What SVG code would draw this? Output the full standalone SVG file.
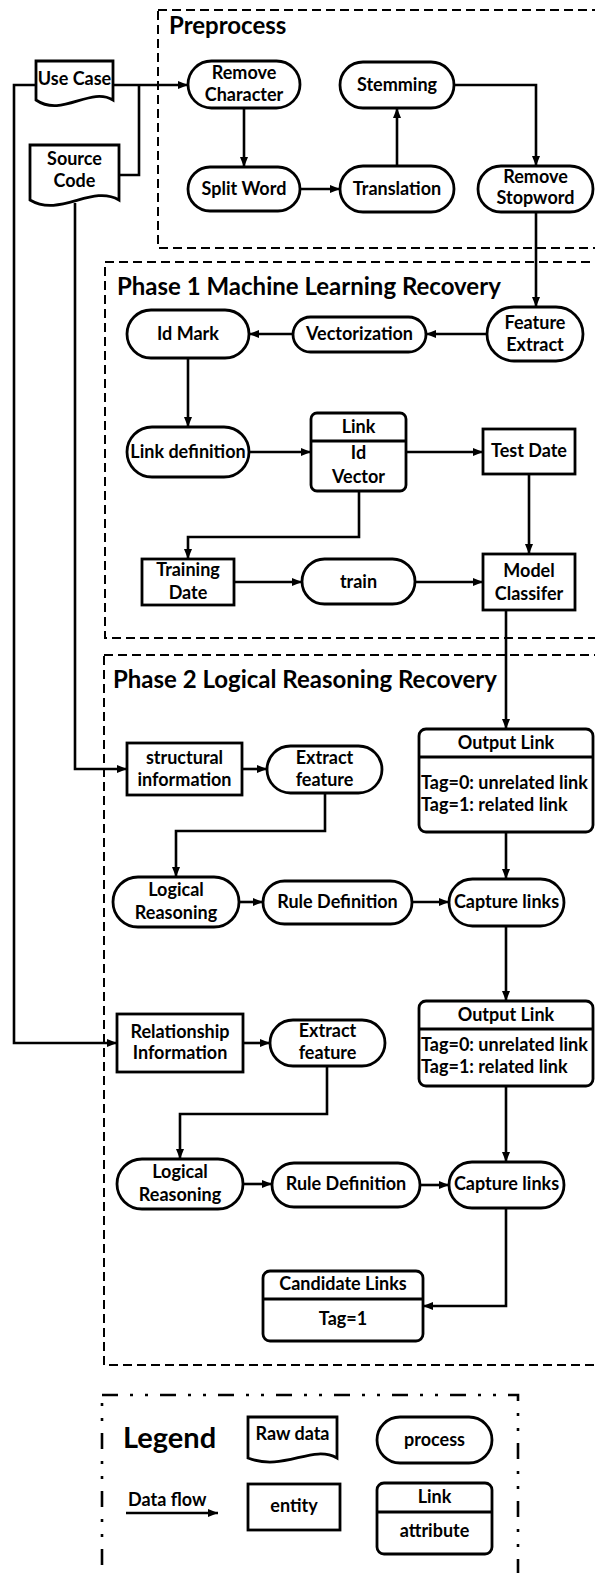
<svg xmlns="http://www.w3.org/2000/svg" width="595" height="1573" viewBox="0 0 595 1573">
<defs>
<style>
.n{fill:#fff;stroke:#000;stroke-width:2.8}
.t{font-family:Lato,"Liberation Sans",sans-serif;font-weight:bold;font-size:18px;fill:#000;text-anchor:middle}
.tl{font-family:Lato,"Liberation Sans",sans-serif;font-weight:bold;font-size:18px;fill:#000;text-anchor:start}
.h{font-family:Lato,"Liberation Sans",sans-serif;font-weight:bold;font-size:24px;fill:#000}
.grp{fill:none;stroke:#000;stroke-width:2;stroke-dasharray:9 5}
.c{fill:none;stroke:#000;stroke-width:2.6}
.ca{fill:none;stroke:#000;stroke-width:2.6;marker-end:url(#ah)}
</style>
<marker id="ah" viewBox="0 0 10 8" refX="10" refY="4" markerWidth="10" markerHeight="8" markerUnits="userSpaceOnUse" orient="auto">
<path d="M0,0 L10,4 L0,8 z" fill="#000"/>
</marker>
</defs>
<rect width="595" height="1573" fill="#fff"/>

<g id="groups">
<rect class="grp" x="158" y="10" width="460" height="238"/>
<text class="h" x="169" y="34">Preprocess</text>
<rect class="grp" x="105" y="262" width="520" height="376"/>
<text class="h" x="117" y="295">Phase 1 Machine Learning Recovery</text>
<rect class="grp" x="104" y="655" width="520" height="710"/>
<text class="h" x="113" y="688">Phase 2 Logical Reasoning Recovery</text>
</g>

<g id="connectors">
<path class="ca" d="M113,85 H188"/>
<path class="c" d="M119,175 H139 V85"/>
<path class="ca" d="M244,108 V167"/>
<path class="ca" d="M300,189 H340"/>
<path class="ca" d="M397,166 V108"/>
<path class="ca" d="M454,85 H536 V166"/>
<path class="ca" d="M536,212 V307"/>
<path class="ca" d="M487,334 H426"/>
<path class="ca" d="M293,334 H249"/>
<path class="ca" d="M188,358 V427"/>
<path class="ca" d="M249,452 H311"/>
<path class="ca" d="M406,452 H483"/>
<path class="ca" d="M529,474 V554"/>
<path class="ca" d="M359,491 V537 H188 V559"/>
<path class="ca" d="M234,582 H302"/>
<path class="ca" d="M415,582 H483"/>
<path class="ca" d="M506,610 V729"/>
<path class="ca" d="M75,203 V769 H127"/>
<path class="ca" d="M242,769 H267"/>
<path class="ca" d="M325,793 V831 H176 V877"/>
<path class="ca" d="M239,902 H263"/>
<path class="ca" d="M412,902 H449"/>
<path class="ca" d="M506,832 V879"/>
<path class="ca" d="M506,926 V1001"/>
<path class="ca" d="M36,85 H14 V1043 H117"/>
<path class="ca" d="M243,1043 H270"/>
<path class="ca" d="M327,1066 V1114 H180 V1159"/>
<path class="ca" d="M243,1184 H272"/>
<path class="ca" d="M420,1185 H449"/>
<path class="ca" d="M506,1086 V1162"/>
<path class="ca" d="M506,1208 V1306 H423"/>
</g>

<g id="use-case">
<path class="n" d="M36,61 H113 V100 C90,86 62,118 36,100 Z"/>
<text class="t" x="74.5" y="85">Use Case</text>
</g>
<g id="source-code">
<path class="n" d="M30,145 H119 V200 C92,184 60,218 30,200 Z"/>
<text class="t" x="74.5" y="165">Source</text>
<text class="t" x="74.5" y="187">Code</text>
</g>

<g id="remove-character">
<rect class="n" x="188" y="61" width="112" height="47" rx="23.5"/>
<text class="t" x="244" y="79">Remove</text>
<text class="t" x="244" y="101">Character</text>
</g>
<g id="split-word">
<rect class="n" x="188" y="167" width="112" height="44" rx="22"/>
<text class="t" x="244" y="195">Split Word</text>
</g>
<g id="stemming">
<rect class="n" x="340" y="62" width="114" height="46" rx="23"/>
<text class="t" x="397" y="91">Stemming</text>
</g>
<g id="translation">
<rect class="n" x="340" y="166" width="114" height="46" rx="23"/>
<text class="t" x="397" y="195">Translation</text>
</g>
<g id="remove-stopword">
<rect class="n" x="478" y="166" width="115" height="46" rx="23"/>
<text class="t" x="535.5" y="183">Remove</text>
<text class="t" x="535.5" y="204">Stopword</text>
</g>

<g id="feature-extract">
<rect class="n" x="487" y="307" width="96" height="54" rx="27"/>
<text class="t" x="535" y="329">Feature</text>
<text class="t" x="535" y="351">Extract</text>
</g>
<g id="vectorization">
<rect class="n" x="293" y="317" width="133" height="35" rx="17.5"/>
<text class="t" x="359.5" y="340">Vectorization</text>
</g>
<g id="id-mark">
<rect class="n" x="127" y="310" width="122" height="48" rx="24"/>
<text class="t" x="188" y="340">Id Mark</text>
</g>
<g id="link-definition">
<rect class="n" x="127" y="427" width="122" height="50" rx="25"/>
<text class="t" x="188" y="458">Link definition</text>
</g>
<g id="link">
<rect class="n" x="311" y="413" width="95" height="78" rx="6"/>
<path class="c" d="M311,441 H406" style="stroke-width:2.8"/>
<text class="t" x="358.5" y="433">Link</text>
<text class="t" x="358.5" y="459">Id</text>
<text class="t" x="358.5" y="483">Vector</text>
</g>
<g id="test-date">
<rect class="n" x="483" y="429" width="92" height="45"/>
<text class="t" x="529" y="457">Test Date</text>
</g>
<g id="model-classifer">
<rect class="n" x="483" y="554" width="92" height="56"/>
<text class="t" x="529" y="577">Model</text>
<text class="t" x="529" y="600">Classifer</text>
</g>
<g id="training-date">
<rect class="n" x="142" y="559" width="92" height="46"/>
<text class="t" x="188" y="576">Training</text>
<text class="t" x="188" y="599">Date</text>
</g>
<g id="train">
<rect class="n" x="302" y="559" width="113" height="45" rx="22.5"/>
<text class="t" x="358.5" y="588">train</text>
</g>

<g id="output-link-1">
<rect class="n" x="419" y="729" width="174" height="103" rx="7"/>
<path class="c" d="M419,757 H593" style="stroke-width:2.8"/>
<text class="t" x="506" y="749">Output Link</text>
<text class="tl" x="421" y="789">Tag=0: unrelated link</text>
<text class="tl" x="421" y="811">Tag=1: related link</text>
</g>
<g id="structural-information">
<rect class="n" x="127" y="743" width="115" height="52"/>
<text class="t" x="184.5" y="764">structural</text>
<text class="t" x="184.5" y="786">information</text>
</g>
<g id="extract-feature-1">
<rect class="n" x="267" y="746" width="115" height="47" rx="23.5"/>
<text class="t" x="324.5" y="764">Extract</text>
<text class="t" x="324.5" y="786">feature</text>
</g>
<g id="logical-reasoning-1">
<rect class="n" x="113" y="877" width="126" height="50" rx="25"/>
<text class="t" x="176" y="896">Logical</text>
<text class="t" x="176" y="919">Reasoning</text>
</g>
<g id="rule-definition-1">
<rect class="n" x="263" y="881" width="149" height="43" rx="21.5"/>
<text class="t" x="337.5" y="908">Rule Definition</text>
</g>
<g id="capture-links-1">
<rect class="n" x="449" y="879" width="115" height="47" rx="23.5"/>
<text class="t" x="506.5" y="908">Capture links</text>
</g>

<g id="output-link-2">
<rect class="n" x="419" y="1001" width="174" height="85" rx="7"/>
<path class="c" d="M419,1029 H593" style="stroke-width:2.8"/>
<text class="t" x="506" y="1021">Output Link</text>
<text class="tl" x="421" y="1051">Tag=0: unrelated link</text>
<text class="tl" x="421" y="1073">Tag=1: related link</text>
</g>
<g id="relationship-information">
<rect class="n" x="117" y="1014" width="126" height="58"/>
<text class="t" x="180" y="1038">Relationship</text>
<text class="t" x="180" y="1059">Information</text>
</g>
<g id="extract-feature-2">
<rect class="n" x="270" y="1020" width="115" height="46" rx="23"/>
<text class="t" x="327.5" y="1037">Extract</text>
<text class="t" x="327.5" y="1059">feature</text>
</g>
<g id="logical-reasoning-2">
<rect class="n" x="117" y="1159" width="126" height="50" rx="25"/>
<text class="t" x="180" y="1178">Logical</text>
<text class="t" x="180" y="1201">Reasoning</text>
</g>
<g id="rule-definition-2">
<rect class="n" x="272" y="1163" width="148" height="44" rx="22"/>
<text class="t" x="346" y="1190">Rule Definition</text>
</g>
<g id="capture-links-2">
<rect class="n" x="449" y="1162" width="115" height="46" rx="23"/>
<text class="t" x="506.5" y="1190">Capture links</text>
</g>
<g id="candidate-links">
<rect class="n" x="263" y="1271" width="160" height="70" rx="7"/>
<path class="c" d="M263,1299 H423" style="stroke-width:2.8"/>
<text class="t" x="343" y="1290">Candidate Links</text>
<text class="t" x="343" y="1325">Tag=1</text>
</g>

<g id="legend">
<rect x="102" y="1395" width="416" height="220" fill="none" stroke="#000" stroke-width="2.6" stroke-dasharray="16 12 3 12 3 12"/>
<text x="123" y="1448" style="font-family:Lato,'Liberation Sans',sans-serif;font-weight:bold;font-size:29px">Legend</text>
<path class="n" d="M248,1417 H337 V1458 C312,1444 284,1472 248,1458 Z"/>
<text class="t" x="292.5" y="1440">Raw data</text>
<rect class="n" x="377" y="1417" width="115" height="46" rx="23"/>
<text class="t" x="434.5" y="1446">process</text>
<text class="tl" x="128" y="1506">Data flow</text>
<path class="ca" d="M126,1513 H218"/>
<rect class="n" x="248" y="1484" width="92" height="46"/>
<text class="t" x="294" y="1512">entity</text>
<rect class="n" x="377" y="1483" width="115" height="71" rx="7"/>
<path class="c" d="M377,1512 H492" style="stroke-width:2.8"/>
<text class="t" x="434.5" y="1503">Link</text>
<text class="t" x="434.5" y="1537">attribute</text>
</g>
</svg>
